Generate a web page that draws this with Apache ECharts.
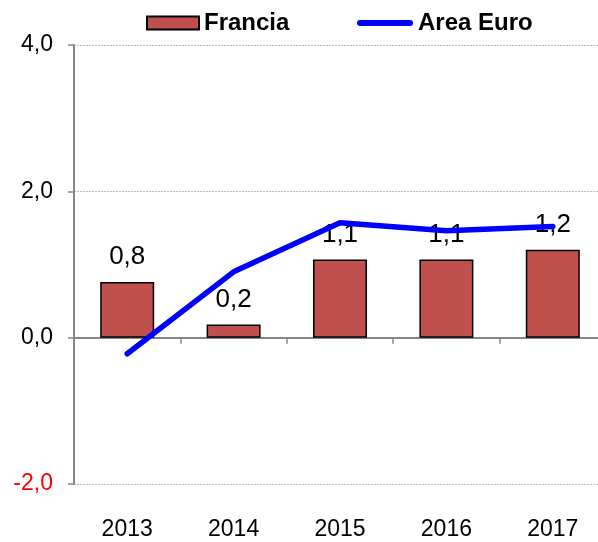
<!DOCTYPE html>
<html>
<head>
<meta charset="utf-8">
<script src="https://cdn.jsdelivr.net/npm/echarts@6/dist/echarts.min.js"></script>
<style>
  html, body { margin: 0; padding: 0; background: #fff; }
  #chart { width: 598px; height: 542px; }
</style>
</head>
<body>
<div id="chart"></div>
<script>
// dati
const years = ['2013', '2014', '2015', '2016', '2017']
const francia = [0.76, 0.18, 1.07, 1.07, 1.2]
const areaEuro = [-0.22, 0.9, 1.57, 1.46, 1.52]
const yTicks = [-2, 0, 2, 4]

const fmt = v => v.toFixed(1).replace('.', ',')

const chart = echarts.init(document.getElementById('chart'))

const legendText = { fontSize: 24, fontWeight: 'bold', color: '#000' }

const option = {
  animation: false,
  textStyle: { fontFamily: 'Liberation Sans, Arial, sans-serif' },
  legend: [
    {
      top: 6,
      left: 141,
      itemWidth: 52,
      itemHeight: 13,
      itemGap: 0,
      textStyle: legendText,
      data: [{ name: 'Francia', icon: 'rect' }]
    },
    {
      top: 6,
      left: 352,
      itemWidth: 56,
      itemHeight: 13,
      itemGap: 0,
      symbolKeepAspect: true,
      textStyle: legendText,
      data: [{
        name: 'Area Euro',
        icon: 'path://M3,0 h50 a3,3 0 0 1 0,6 h-50 a3,3 0 0 1 0,-6 z'
      }]
    }
  ],
  // la griglia esce a destra oltre il bordo dell'immagine
  grid: { left: 74, top: 45, right: -8, bottom: 58, outerBoundsMode: 'none', containLabel: false },
  xAxis: [
    {
      type: 'category',
      data: years,
      axisLine: { onZero: true, lineStyle: { color: '#868686', width: 2 } },
      axisTick: { show: true, length: 6, lineStyle: { color: '#868686', width: 1.5 } },
      axisLabel: { show: false }
    },
    {
      type: 'category',
      data: years,
      position: 'bottom',
      axisLine: { show: false, onZero: false },
      axisTick: { show: false },
      axisLabel: { margin: 34, fontSize: 23, color: '#000' }
    }
  ],
  yAxis: {
    type: 'value',
    min: yTicks[0],
    max: yTicks[yTicks.length - 1],
    interval: 2,
    axisLine: { show: true, lineStyle: { color: '#868686', width: 2 } },
    axisTick: { show: true, length: 6, lineStyle: { color: '#868686', width: 1.5 } },
    axisLabel: {
      margin: 21,
      fontSize: 23,
      formatter: v => fmt(v),
      color: v => (Number(v) < 0 ? '#ff0000' : '#000')
    },
    splitLine: { show: true, lineStyle: { color: '#bdbdbd', type: [2, 1], width: 1 } }
  },
  series: [
    {
      name: 'Francia',
      type: 'bar',
      data: francia,
      barWidth: 54,
      itemStyle: { color: '#C0504D', borderColor: '#000', borderWidth: 1.5 },
      label: {
        show: true,
        position: 'top',
        distance: 12,
        fontSize: 26,
        color: '#000',
        formatter: p => fmt(p.value)
      },
      z: 2
    },
    {
      name: 'Area Euro',
      type: 'line',
      data: areaEuro,
      symbol: 'none',
      lineStyle: { color: '#0000ff', width: 5.5, cap: 'round', join: 'round' },
      itemStyle: { color: '#0000ff' },
      z: 3
    }
  ]
}

chart.setOption(option)
</script>
</body>
</html>
